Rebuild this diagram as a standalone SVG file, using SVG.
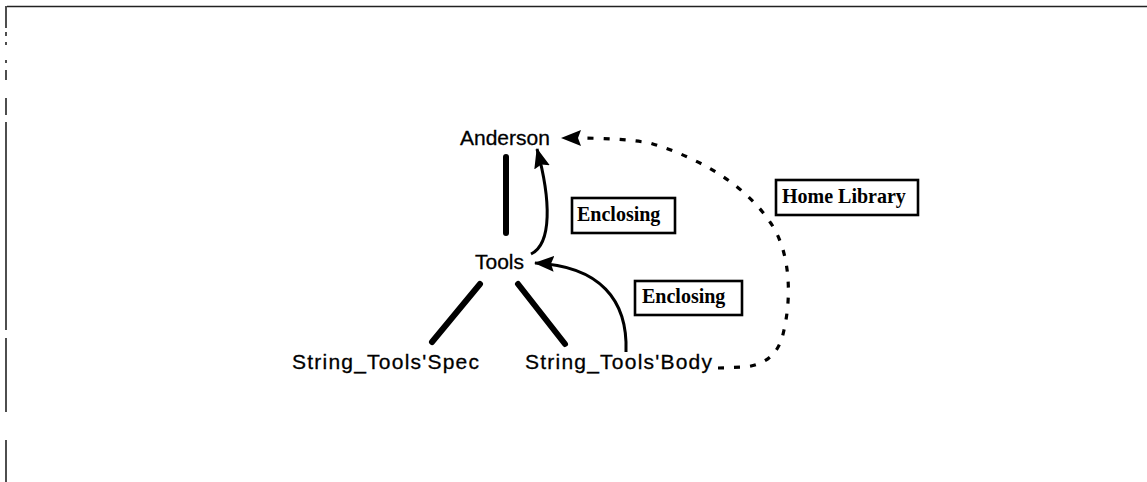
<svg xmlns="http://www.w3.org/2000/svg" width="1147" height="482" viewBox="0 0 1147 482">
  <defs>
    <marker id="ah" viewBox="0 0 20 16" refX="19" refY="8" markerWidth="20" markerHeight="16" markerUnits="userSpaceOnUse" orient="auto">
      <path d="M0,0 L20,8 L0,16 L3,8 z" fill="#000"/>
    </marker>
    <style>
      .node { font-family: "Liberation Sans", Arial, sans-serif; font-size: 21px; fill: #000; stroke: #000; stroke-width: 0.3; }
      .lbl { font-family: "Liberation Serif", "Times New Roman", serif; font-size: 20px; font-weight: bold; fill: #000; }
      .box { fill: #fff; stroke: #000; stroke-width: 2.6; }
      .tree { stroke: #000; stroke-width: 6; stroke-linecap: round; fill: none; }
      .arc { stroke: #000; stroke-width: 3; fill: none; marker-end: url(#ah); }
      .dash { stroke: #000; stroke-width: 3.2; fill: none; stroke-dasharray: 6 10; marker-end: url(#ah); }
      .frame { stroke: #222; stroke-width: 1.6; fill: none; }
    </style>
  </defs>
  <rect width="1147" height="482" fill="#fff"/>

  <!-- page frame -->
  <g id="frame">
    <path class="frame" d="M7,6.5 L1147,6.5"/>
    <path class="frame" d="M6,6 L6,28 M6,32 L6,36 M6,42 L6,45 M6,60 L6,63 M6,70 L6,80 M6,98 L6,115 M6,122 L6,330 M6,338 L6,412 M6,440 L6,482"/>
  </g>

  <!-- connectors -->
  <g id="connectors">
    <line class="tree" x1="506" y1="157" x2="506" y2="233"/>
    <line class="tree" x1="480" y1="284" x2="432" y2="342"/>
    <line class="tree" x1="518" y1="284" x2="565" y2="344"/>
    <path class="arc" d="M531,254 C552,244 551,200 537,149"/>
    <path class="arc" d="M626,352 C628,300 600,266 535,263"/>
    <path class="dash" d="M718,368 L745,367 C770,364 780,350 784,330 C792,295 790,250 770,222 C745,185 700,158 650,143 C620,138 590,138 562,138"/>
  </g>

  <!-- nodes -->
  <g id="anderson"><text class="node" x="460" y="145">Anderson</text></g>
  <g id="tools"><text class="node" x="475" y="269">Tools</text></g>
  <g id="spec"><text class="node" x="292" y="369" textLength="187">String_Tools'Spec</text></g>
  <g id="body"><text class="node" x="525" y="369" textLength="187">String_Tools'Body</text></g>

  <!-- edge labels -->
  <g id="label-enclosing-1">
    <rect class="box" x="572" y="198" width="103" height="35"/>
    <text class="lbl" x="577" y="221">Enclosing</text>
  </g>
  <g id="label-enclosing-2">
    <rect class="box" x="635" y="281" width="107" height="34"/>
    <text class="lbl" x="642" y="303">Enclosing</text>
  </g>
  <g id="label-home-library">
    <rect class="box" x="776" y="180" width="142" height="35"/>
    <text class="lbl" x="782" y="203">Home Library</text>
  </g>
</svg>
